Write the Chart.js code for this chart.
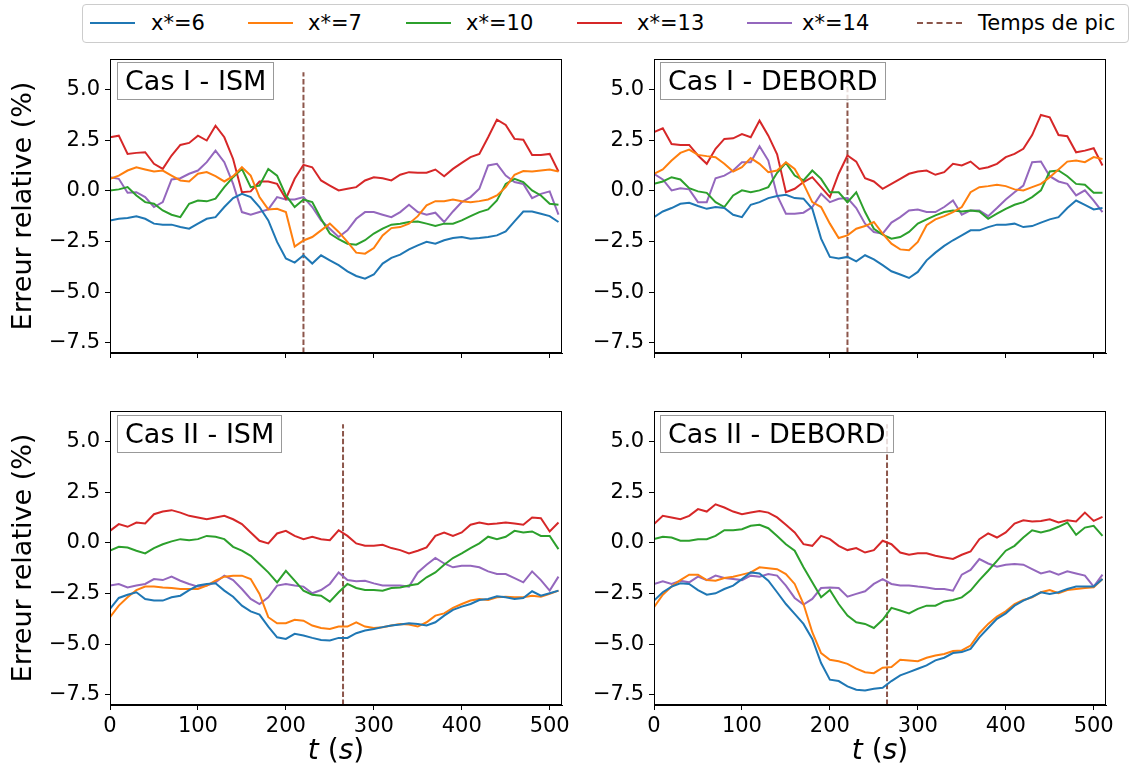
<!DOCTYPE html>
<html lang="fr">
<head>
<meta charset="UTF-8">
<title>Erreur relative - Cas I / Cas II</title>
<script src="https://cdn.jsdelivr.net/npm/chart.js@4.4.0/dist/chart.umd.min.js"></script>
<style>
  body { margin: 0; background: #fff; font-family: "DejaVu Sans", sans-serif; }
  #page { position: relative; width: 1131px; height: 769px; overflow: hidden; }
  canvas { position: absolute; }
  .tag { position: absolute; height: 36px; line-height: 36px; padding: 0 7px; font-size: 27px;
         border: 1px solid #999; background: rgba(255,255,255,0.8); white-space: nowrap; color: #000; }
  .ytitle { position: absolute; width: 320px; height: 32px; line-height: 32px; text-align: center;
            font-size: 27px; transform: rotate(-90deg); white-space: nowrap; }
  .xtitle { position: absolute; width: 120px; height: 34px; line-height: 34px; text-align: center;
            font-size: 28px; white-space: nowrap; }
  #legend { position: absolute; left: 82px; top: 4px; width: 1045px; height: 37px;
            border: 1px solid #ccc; border-radius: 4px; background: #fff; }
  .sw { position: absolute; top: 17px; width: 45px; height: 0; border-top: 2px solid; }
  .lt { position: absolute; top: 6px; font-size: 21px; line-height: 24px; white-space: nowrap; }
</style>
</head>
<body>
<div id="page">
  <canvas id="c1" width="580" height="335" style="left:0;top:50px"></canvas>
  <canvas id="c2" width="587" height="335" style="left:544px;top:50px"></canvas>
  <canvas id="c3" width="580" height="345" style="left:0;top:402px"></canvas>
  <canvas id="c4" width="587" height="345" style="left:544px;top:402px"></canvas>

  <div class="tag" style="left:117px;top:62px">Cas I - ISM</div>
  <div class="tag" style="left:660px;top:62px">Cas I - DEBORD</div>
  <div class="tag" style="left:117px;top:415px">Cas II - ISM</div>
  <div class="tag" style="left:660px;top:415px">Cas II - DEBORD</div>

  <div class="ytitle" style="left:-138px;top:190px">Erreur relative (%)</div>
  <div class="ytitle" style="left:-138px;top:542px">Erreur relative (%)</div>
  <div class="xtitle" style="left:276px;top:733px"><i>t</i> (<i>s</i>)</div>
  <div class="xtitle" style="left:820px;top:733px"><i>t</i> (<i>s</i>)</div>

  <div id="legend"></div>
</div>

<script>
// temps (s)
const times = [0,10,20,30,40,50,60,70,80,90,100,110,120,130,140,150,160,170,180,190,200,210,220,230,240,250,
               260,270,280,290,300,310,320,330,340,350,360,370,380,390,400,410,420,430,440,450,460,470,480,490,500,510];

const seriesLabels = ['x*=6', 'x*=7', 'x*=10', 'x*=13', 'x*=14'];
const peakLabel = 'Temps de pic';
const xTickValues = [0, 100, 200, 300, 400, 500];
const yTickValues = [-7.5, -5, -2.5, 0, 2.5, 5];

// temps de pic (s)
const peakCasI = 220;
const peakCasII = 265;

// Cas I - ISM
const casI_ism_6 = [-1.46,-1.38,-1.34,-1.26,-1.38,-1.62,-1.67,-1.67,-1.79,-1.87,-1.62,-1.38,-1.30,-0.80,-0.36,-0.15,-0.31,-0.80,-1.46,-2.52,-3.34,-3.54,-3.18,-3.59,-3.18,-3.43,
                    -3.67,-3.97,-4.20,-4.33,-4.13,-3.59,-3.31,-3.15,-2.89,-2.69,-2.52,-2.61,-2.44,-2.33,-2.28,-2.36,-2.33,-2.28,-2.20,-2.00,-1.51,-1.02,-1.02,-1.13,-1.25,-1.54];
const casI_ism_7 = [0.59,0.75,1.00,1.16,1.05,0.95,1.00,0.75,0.51,0.46,0.84,0.92,0.72,0.46,0.72,1.16,0.75,-0.31,-0.92,-0.89,-1.05,-2.75,-2.45,-2.28,-1.95,-1.62,
                    -2.03,-2.52,-3.05,-3.10,-2.82,-2.20,-1.84,-1.79,-1.62,-1.25,-0.72,-0.51,-0.51,-0.43,-0.52,-0.56,-0.51,-0.43,-0.23,0.18,0.79,0.97,0.95,1.00,1.05,0.95];
const casI_ism_10 = [0.02,0.07,0.18,-0.23,-0.56,-0.64,-0.97,-1.18,-1.30,-0.64,-0.48,-0.52,-0.39,0.18,0.67,1.08,0.18,0.26,1.08,0.75,-0.23,-0.80,-0.43,-0.56,-1.38,-2.11,
                     -2.39,-2.61,-2.66,-2.44,-2.11,-1.87,-1.67,-1.62,-1.54,-1.51,-1.62,-1.74,-1.62,-1.62,-1.46,-1.25,-1.05,-0.92,-0.48,0.34,0.59,0.43,0.02,-0.23,-0.64,-0.69];
const casI_ism_13 = [2.64,2.72,1.82,1.87,1.90,1.33,1.08,1.74,2.26,2.36,2.72,2.48,3.21,2.64,1.57,-0.07,-0.03,0.46,0.46,0.34,-0.39,0.59,1.28,1.16,0.51,0.26,
                     0.02,0.10,0.18,0.51,0.67,0.62,0.51,0.79,0.92,0.89,0.89,1.05,0.72,1.08,1.38,1.66,1.82,2.64,3.51,3.25,2.56,2.52,1.77,1.77,1.82,0.95];
const casI_ism_14 = [0.67,0.59,-0.10,-0.07,-0.31,-0.80,-0.56,0.56,0.62,0.84,1.00,1.41,1.98,1.41,0.34,-1.05,-1.18,-1.05,-0.92,-0.31,-0.43,-0.43,-0.31,-0.80,-1.46,-1.87,
                     -2.28,-1.95,-1.38,-1.05,-1.05,-1.18,-1.30,-1.05,-0.69,-1.05,-1.18,-1.08,-1.54,-1.02,-0.56,-0.31,0.10,1.25,1.33,0.75,0.43,0.34,-0.36,-0.15,-0.03,-1.18];

// Cas I - DEBORD
const casI_deb_6 = [-1.30,-1.02,-0.85,-0.64,-0.59,-0.75,-0.89,-0.80,-0.85,-1.18,-1.30,-0.69,-0.56,-0.36,-0.26,-0.20,-0.36,-0.39,-0.89,-2.36,-3.26,-3.34,-3.26,-3.48,-3.18,-3.38,
                    -3.67,-3.97,-4.13,-4.30,-4.00,-3.43,-3.05,-2.72,-2.44,-2.20,-1.95,-1.95,-1.79,-1.67,-1.67,-1.62,-1.79,-1.74,-1.57,-1.41,-1.30,-0.85,-0.48,-0.69,-0.92,-0.85];
const casI_deb_7 = [0.84,1.05,1.49,1.87,2.03,1.77,1.71,1.66,1.33,0.95,1.16,1.61,1.33,0.92,1.00,1.41,1.08,0.34,-0.56,-0.80,-1.62,-2.33,-2.20,-1.87,-1.74,-1.54,
                    -2.11,-2.61,-2.89,-2.93,-2.52,-1.70,-1.41,-1.25,-1.05,-0.80,-0.07,0.18,0.23,0.30,0.23,0.07,0.02,0.18,0.34,0.67,1.05,1.44,1.49,1.41,1.66,1.57];
const casI_deb_10 = [0.34,0.46,0.67,0.56,0.13,-0.03,-0.10,-0.56,-0.80,-0.23,0.02,-0.07,0.02,0.18,0.89,1.38,0.75,0.51,1.00,0.59,-0.07,-0.07,-0.56,-0.07,-1.05,-1.87,
                     -2.16,-2.36,-2.28,-2.03,-1.62,-1.41,-1.21,-1.05,-0.97,-1.02,-0.97,-1.02,-1.38,-1.13,-0.89,-0.69,-0.56,-0.31,0.02,0.95,1.00,0.72,0.34,0.30,-0.10,-0.10];
const casI_deb_13 = [2.89,3.08,2.31,2.26,2.26,1.74,1.33,2.07,2.56,2.59,2.80,2.64,3.46,2.72,1.80,-0.07,0.10,0.43,0.67,0.18,-0.31,0.84,1.74,1.44,0.62,0.46,
                     0.10,0.34,0.59,0.84,0.95,1.00,0.79,0.92,1.33,1.25,1.44,1.08,1.16,1.33,1.66,1.82,2.07,2.75,3.74,3.62,2.75,2.69,1.90,1.98,2.10,1.25];
const casI_deb_14 = [0.84,0.56,0.02,0.13,0.07,-0.56,-0.56,0.62,0.75,1.00,1.41,1.41,2.20,1.49,-0.23,-1.13,-1.13,-1.08,-0.80,-0.15,-0.56,-0.39,-0.36,-0.85,-1.62,-2.03,
                     -2.11,-1.57,-1.30,-0.97,-0.92,-1.05,-1.05,-0.80,-0.48,-1.18,-0.97,-0.97,-1.25,-0.85,-0.43,-0.07,0.26,1.41,1.44,0.72,0.46,0.34,-0.23,0.02,-0.48,-1.05];

// Cas II - ISM
const casII_ism_6 = [-3.26,-2.72,-2.56,-2.44,-2.77,-2.85,-2.85,-2.69,-2.61,-2.33,-2.11,-2.03,-2.00,-2.36,-2.66,-3.10,-3.38,-3.54,-4.13,-4.66,-4.74,-4.49,-4.57,-4.69,-4.79,-4.82,
                     -4.69,-4.69,-4.46,-4.33,-4.25,-4.16,-4.08,-4.03,-3.97,-4.00,-4.08,-3.92,-3.59,-3.31,-3.15,-3.02,-2.82,-2.77,-2.64,-2.69,-2.77,-2.72,-2.39,-2.61,-2.49,-2.36];
const casII_ism_7 = [-3.67,-3.10,-2.69,-2.33,-2.16,-2.16,-2.20,-2.23,-2.28,-2.28,-2.28,-2.11,-1.87,-1.67,-1.62,-1.62,-1.79,-2.52,-3.67,-3.97,-3.97,-3.80,-3.84,-4.08,-4.20,-4.25,
                     -4.13,-4.13,-3.92,-4.13,-4.20,-4.16,-4.08,-4.00,-4.03,-4.13,-3.92,-3.59,-3.48,-3.21,-3.02,-2.85,-2.77,-2.82,-2.69,-2.66,-2.69,-2.69,-2.61,-2.66,-2.52,-2.36];
const casII_ism_10 = [-0.39,-0.20,-0.23,-0.39,-0.52,-0.26,-0.07,0.07,0.18,0.13,0.18,0.34,0.30,0.18,-0.20,-0.39,-0.64,-1.05,-1.46,-1.95,-1.38,-1.87,-2.36,-2.56,-2.61,-2.90,
                      -2.44,-2.03,-2.23,-2.33,-2.33,-2.36,-2.23,-2.20,-2.11,-2.03,-1.70,-1.46,-1.08,-0.75,-0.52,-0.26,-0.03,0.30,0.18,0.30,0.59,0.51,0.56,0.34,0.34,-0.31];
const casII_ism_13 = [0.59,0.92,0.79,1.00,0.95,1.41,1.54,1.61,1.49,1.33,1.25,1.16,1.25,1.33,1.16,0.92,0.51,0.10,-0.03,0.46,0.59,0.34,0.18,0.30,0.18,0.13,
                      0.62,0.34,-0.03,-0.15,-0.15,-0.10,-0.26,-0.36,-0.52,-0.39,-0.23,0.34,0.51,0.34,0.51,0.89,1.00,0.92,0.95,1.00,0.95,0.89,1.25,1.21,0.56,1.00];
const casII_ism_14 = [-2.11,-2.03,-2.20,-2.11,-2.03,-1.79,-1.84,-1.67,-1.87,-2.03,-2.16,-2.11,-1.95,-1.62,-1.84,-2.28,-2.77,-3.02,-2.69,-2.11,-2.03,-2.11,-2.16,-2.49,-2.33,-2.03,
                      -1.46,-1.84,-1.90,-1.87,-2.00,-2.11,-2.11,-2.11,-2.16,-1.46,-1.08,-0.75,-1.02,-1.21,-1.13,-1.13,-1.21,-1.41,-1.54,-1.54,-1.74,-1.95,-1.41,-1.84,-2.36,-1.67];

// Cas II - DEBORD
const casII_deb_6 = [-2.85,-2.44,-2.16,-2.00,-2.03,-2.33,-2.56,-2.49,-2.28,-2.11,-1.79,-1.46,-1.51,-1.87,-2.44,-3.02,-3.51,-4.00,-4.74,-5.93,-6.75,-6.82,-7.08,-7.25,-7.28,-7.20,
                     -7.15,-6.82,-6.54,-6.38,-6.21,-6.05,-5.80,-5.67,-5.44,-5.39,-5.23,-4.66,-4.20,-3.75,-3.48,-3.10,-2.85,-2.66,-2.44,-2.52,-2.44,-2.28,-2.16,-2.16,-2.16,-1.79];
const casII_deb_7 = [-3.18,-2.56,-2.16,-1.84,-1.57,-1.57,-1.84,-1.87,-1.74,-1.67,-1.57,-1.46,-1.21,-1.25,-1.30,-1.54,-2.03,-3.02,-4.41,-5.44,-5.77,-5.84,-5.97,-6.21,-6.38,-6.43,
                     -6.16,-6.13,-5.77,-5.80,-5.84,-5.67,-5.56,-5.48,-5.34,-5.31,-5.07,-4.46,-4.00,-3.64,-3.38,-3.02,-2.82,-2.69,-2.44,-2.33,-2.49,-2.33,-2.28,-2.23,-2.20,-1.79];
const casII_deb_10 = [0.18,0.30,0.26,0.10,0.10,0.18,0.18,0.34,0.62,0.62,0.67,0.84,0.89,0.72,0.34,-0.07,-0.39,-1.21,-1.95,-2.69,-2.33,-3.02,-3.59,-3.92,-4.00,-4.20,
                      -3.80,-3.21,-3.34,-3.48,-3.26,-3.10,-3.10,-2.89,-2.82,-2.69,-2.36,-1.84,-1.38,-0.89,-0.39,-0.15,0.26,0.62,0.51,0.62,0.79,1.00,0.39,0.75,0.84,0.34];
const casII_deb_13 = [0.92,1.33,1.25,1.16,1.33,1.66,1.54,1.90,1.74,1.54,1.41,1.49,1.57,1.49,1.25,0.89,0.51,-0.07,-0.15,0.34,0.18,-0.15,-0.36,-0.26,-0.48,-0.36,
                      0.10,-0.07,-0.48,-0.59,-0.52,-0.52,-0.64,-0.72,-0.80,-0.59,-0.43,0.18,0.46,0.26,0.51,0.95,1.11,1.05,1.08,1.16,1.00,1.11,1.05,1.49,1.08,1.28];
const casII_deb_14 = [-2.03,-1.90,-2.03,-1.87,-1.95,-1.67,-1.84,-1.62,-1.74,-1.79,-1.84,-1.62,-1.67,-1.54,-1.62,-2.11,-2.72,-3.05,-2.77,-2.23,-2.20,-2.23,-2.66,-2.52,-2.39,-2.03,
                      -1.79,-2.03,-2.11,-2.11,-2.16,-2.20,-2.28,-2.28,-2.36,-1.57,-1.34,-0.80,-1.02,-1.18,-1.08,-1.05,-1.08,-1.30,-1.51,-1.41,-1.57,-1.41,-1.51,-1.62,-2.16,-1.57];

const seriesColors = ['#1f77b4', '#ff7f0e', '#2ca02c', '#d62728', '#9467bd'];
const peakColor = '#8c564b';
const yMin = -8.0, yMax = 6.5, xMax = 514, peakTop = 5.85;

// legend (html, one row over both columns)
const legend = document.getElementById('legend');
const legendPos = [[7, 68], [165, 225], [323, 383], [494, 554], [664, 719], [834, 895]];
seriesLabels.concat([peakLabel]).forEach((lab, k) => {
    const sw = document.createElement('span');
    sw.className = 'sw';
    sw.style.left = legendPos[k][0] + 'px';
    if (k < seriesColors.length) sw.style.borderTopColor = seriesColors[k];
    else { sw.style.borderTop = '2px dashed ' + peakColor; }
    legend.appendChild(sw);
    const t = document.createElement('span');
    t.className = 'lt';
    t.style.left = legendPos[k][1] + 'px';
    t.textContent = lab;
    legend.appendChild(t);
});

// box around the plot area (top/right spines)
const frame = {
    id: 'frame',
    afterDraw(chart) {
        const a = chart.chartArea, c = chart.ctx;
        c.save();
        c.strokeStyle = '#000';
        c.lineWidth = 1;
        c.strokeRect(a.left + 0.5, a.top + 0.5, a.right - a.left - 1, a.bottom - a.top - 1);
        c.restore();
    }
};

function makePanel(id, seriesList, peak, showX, padRight, xHeight) {
    const datasets = seriesList.map((vals, k) => ({
        label: seriesLabels[k],
        data: times.map((t, i) => ({ x: t, y: vals[i] })),
        borderColor: seriesColors[k],
        borderWidth: 2,
        pointRadius: 0,
        tension: 0,
        fill: false
    }));
    datasets.push({
        label: peakLabel,
        data: [{ x: peak, y: yMin }, { x: peak, y: peakTop }],
        borderColor: peakColor,
        borderWidth: 2,
        borderDash: [5.5, 2.4],
        pointRadius: 0,
        fill: false
    });

    const tickFont = { family: 'DejaVu Sans', size: 21 };
    new Chart(document.getElementById(id), {
        type: 'line',
        data: { datasets: datasets },
        options: {
            responsive: false,
            animation: false,
            devicePixelRatio: 1,
            layout: { padding: { left: 0, top: 9, right: padRight, bottom: 0 } },
            plugins: { legend: { display: false }, tooltip: { enabled: false } },
            scales: {
                x: {
                    type: 'linear', min: 0, max: xMax,
                    afterBuildTicks: s => { s.ticks = xTickValues.map(v => ({ value: v })); },
                    afterFit: s => { s.height = xHeight; s.paddingLeft = 0; s.paddingRight = 0; },
                    grid: { drawOnChartArea: false, drawTicks: true, tickLength: 5, tickColor: '#000', tickWidth: 1 },
                    border: { display: true, color: '#000', width: 1 },
                    ticks: { display: showX, color: '#000', font: tickFont, padding: 4, maxRotation: 0, autoSkip: false,
                             callback: v => String(v) }
                },
                y: {
                    type: 'linear', min: yMin, max: yMax,
                    afterBuildTicks: s => { s.ticks = yTickValues.map(v => ({ value: v })); },
                    afterFit: s => { s.width = 110; s.paddingTop = 0; s.paddingBottom = 0; },
                    grid: { drawOnChartArea: false, drawTicks: true, tickLength: 5, tickColor: '#000', tickWidth: 1 },
                    border: { display: true, color: '#000', width: 1 },
                    ticks: { color: '#000', font: tickFont, padding: 5, autoSkip: false,
                             callback: v => v.toFixed(1).replace('-', '\u2212') }
                }
            }
        },
        plugins: [frame]
    });
}

makePanel('c1', [casI_ism_6, casI_ism_7, casI_ism_10, casI_ism_13, casI_ism_14], peakCasI, false, 18, 32);
makePanel('c2', [casI_deb_6, casI_deb_7, casI_deb_10, casI_deb_13, casI_deb_14], peakCasI, false, 25, 32);
makePanel('c3', [casII_ism_6, casII_ism_7, casII_ism_10, casII_ism_13, casII_ism_14], peakCasII, true, 18, 42);
makePanel('c4', [casII_deb_6, casII_deb_7, casII_deb_10, casII_deb_13, casII_deb_14], peakCasII, true, 25, 42);
</script>
</body>
</html>
